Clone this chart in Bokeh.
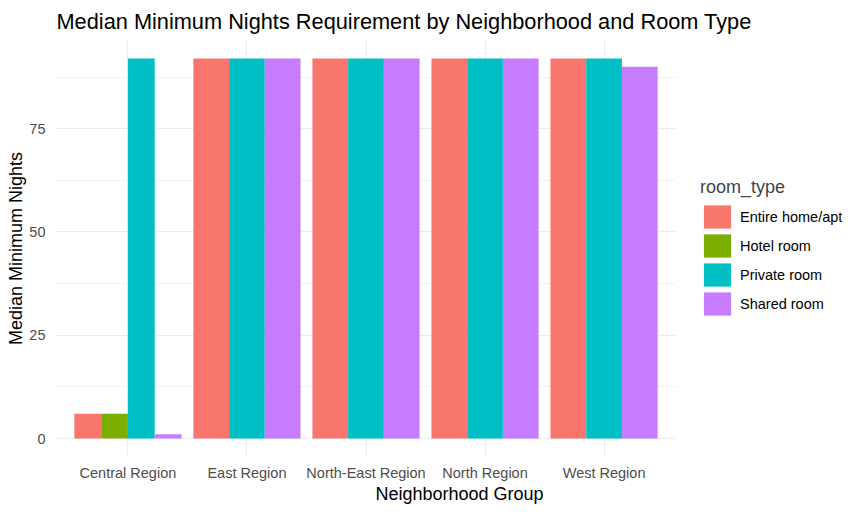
from bokeh.plotting import figure
from bokeh.models import ColumnDataSource, FixedTicker, Legend, LegendItem, Range1d, BoxAnnotation
from bokeh.embed import file_html
from bokeh.resources import INLINE

regions = ["Central Region", "East Region", "North-East Region", "North Region", "West Region"]
room_types = ["Entire home/apt", "Hotel room", "Private room", "Shared room"]
entire_home = [6, 92, 92, 92, 92]
hotel_room = [6, None, None, None, None]
private_room = [92, 92, 92, 92, 92]
shared_room = [1, 92, 92, 92, 90]
colors = ["#F8766D", "#7CAE00", "#00BFC4", "#C77CFF"]
y_ticks = [0, 25, 50, 75]
y_minor = [12.5, 37.5, 62.5, 87.5]

series = [entire_home, hotel_room, private_room, shared_room]

FONT = "Liberation Sans"

# panel geometry (pixels)
LEFT, TOP, BOTTOM = 56, 39, 55
PANEL_W, PANEL_H = 619, 418
TOTAL_W = 862
FRAME_W = TOTAL_W - LEFT

x_lo = 0.4
x_hi = len(regions) + 0.6
x_end = x_lo + (x_hi - x_lo) * FRAME_W / PANEL_W

y_max = max(max(v for v in s if v is not None) for s in series)
y_pad = 0.05 * y_max

p = figure(frame_width=FRAME_W, frame_height=PANEL_H, output_backend="svg", toolbar_location=None,
           x_range=Range1d(x_lo, x_end), y_range=Range1d(-y_pad, y_max + y_pad),
           min_border_left=LEFT, min_border_right=0, min_border_top=TOP, min_border_bottom=BOTTOM)

p.title.text = "Median Minimum Nights Requirement by Neighborhood and Room Type"
p.title.text_font = FONT
p.title.text_font_size = "21.75px"
p.title.text_font_style = "normal"
p.title.text_color = "black"
p.title.align = "left"
p.title.standoff = 12

p.outline_line_color = None
p.background_fill_color = "white"
p.border_fill_color = "white"

renderers = []
for k, rt in enumerate(room_types):
    xs, ws, tops = [], [], []
    for i, region in enumerate(regions):
        present = [m for m in range(len(series)) if series[m][i] is not None]
        if series[k][i] is None:
            continue
        n = len(present)
        w = 0.9 / n
        j = present.index(k)
        xs.append(i + 1 - 0.45 + w * (j + 0.5))
        ws.append(w)
        tops.append(series[k][i])
    src = ColumnDataSource(dict(x=xs, w=ws, top=tops))
    r = p.vbar(x="x", width="w", top="top", bottom=0, source=src,
               fill_color=colors[k], line_color=None)
    renderers.append(r)

# axes
p.xaxis.ticker = FixedTicker(ticks=list(range(1, len(regions) + 1)))
p.xaxis.major_label_overrides = {i + 1: reg for i, reg in enumerate(regions)}
p.yaxis.ticker = FixedTicker(ticks=y_ticks, minor_ticks=y_minor)
for ax in (p.xaxis, p.yaxis):
    ax.axis_line_color = None
    ax.major_tick_line_color = None
    ax.minor_tick_line_color = None
    ax.major_label_text_font = FONT
    ax.major_label_text_font_size = "14.5px"
    ax.major_label_text_color = "#4D4D4D"
    ax.axis_label_text_font = FONT
    ax.axis_label_text_font_size = "18px"
    ax.axis_label_text_font_style = "normal"
    ax.axis_label_text_color = "black"
p.xaxis.axis_label = "Neighborhood Group"
p.yaxis.axis_label = "Median Minimum Nights"
p.xaxis.major_label_standoff = 1
p.xaxis.axis_label_standoff = 0
p.yaxis.major_label_standoff = 5
p.yaxis.axis_label_standoff = 0

p.xgrid.grid_line_color = "#EBEBEB"
p.xgrid.grid_line_width = 1
p.ygrid.grid_line_color = "#EBEBEB"
p.ygrid.grid_line_width = 1
p.ygrid.minor_grid_line_color = "#F2F2F2"
p.ygrid.minor_grid_line_width = 1

# white area right of the panel, where the legend sits
p.add_layout(BoxAnnotation(left=x_hi, fill_color="white", fill_alpha=1.0, line_alpha=0))

legend = Legend(items=[LegendItem(label=rt, renderers=[r]) for rt, r in zip(room_types, renderers)],
                title="room_type", location=(644, 139),
                glyph_width=34, glyph_height=29, spacing=0,
                label_standoff=6, padding=0, margin=0,
                border_line_color=None, background_fill_alpha=0,
                label_text_font=FONT, label_text_font_size="14.5px", label_text_color="black",
                title_text_font=FONT, title_text_font_size="18px", title_text_font_style="normal",
                title_standoff=4)
p.add_layout(legend)

open("out.html", "w").write(file_html(p, INLINE))
